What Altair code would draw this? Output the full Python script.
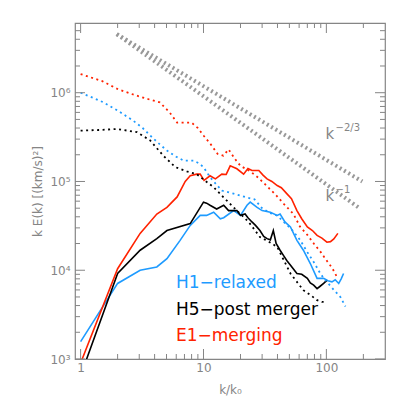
import altair as alt
import pandas as pd

# ---------------- data ----------------
series_names = ["H1−relaxed", "H5−post merger", "E1−merging"]
series_colors = ["#1e9bff", "#000000", "#ff2200"]

# solid curves
k_h1 = [1, 2, 3.05, 4.17, 5.04, 6.45, 7.8, 9.4, 10.6, 12.1, 13.7, 14.6, 17.6, 20, 22.6, 24,
        27.3, 30, 35, 39.8, 42, 46, 51, 57.6, 65, 74, 84, 95, 103, 111, 118, 126, 132, 138]
e_h1 = [1.57e3, 7.1e3, 1.0e4, 1.09e4, 1.35e4, 2.17e4, 3.2e4, 4.15e4, 4.15e4, 4.5e4, 3.8e4, 3.9e4,
        4.7e4, 4.15e4, 5.4e4, 5.85e4, 5.1e4, 4.7e4, 4.5e4, 4.15e4, 4.3e4, 3.5e4, 3.07e4, 2.17e4,
        1.68e4, 1.19e4, 8.1e3, 8.1e3, 7.6e3, 7.4e3, 7.8e3, 7.1e3, 8.0e3, 9.2e3]

k_h5 = [1, 2, 3.05, 4.17, 5.04, 7.8, 10, 10.6, 11.3, 12.8, 14.6, 16, 18.7, 20, 21.8, 23, 24.8,
        26.5, 28.8, 30.9, 32.9, 35, 37, 39, 42, 45, 47.6, 52, 57.6, 63, 70, 74, 78.8, 84, 89, 95, 101]
e_h5 = [650, 9.2e3, 1.68e4, 2.27e4, 2.8e4, 3.35e4, 5.85e4, 5.7e4, 5.4e4, 4.9e4, 5.4e4, 4.7e4,
        4.7e4, 4.15e4, 4.3e4, 3.9e4, 3.5e4, 3.2e4, 2.8e4, 2.4e4, 2.27e4, 2.2e4, 2.8e4, 2.0e4,
        1.68e4, 1.45e4, 1.29e4, 1.1e4, 9.2e3, 9.0e3, 8.1e3, 7.2e3, 6.8e3, 6.2e3, 6.6e3, 7.1e3, 7.7e3]

k_e1 = [1, 2, 3.05, 4.17, 5.04, 6.1, 7.1, 7.8, 8.8, 9.4, 10.1, 11.3, 12.5, 14.1, 15.3, 16.5, 18.7,
        21.2, 23, 24.8, 28.2, 30.5, 32.9, 36, 39.8, 43, 47.6, 52, 57.6, 63, 70, 77, 84, 92, 101,
        108, 115, 124]
e_e1 = [900, 1.04e4, 2.6e4, 4.3e4, 5.1e4, 6.7e4, 1.0e5, 1.16e5, 1.21e5, 1.21e5, 1.03e5, 1.16e5,
        1.07e5, 1.21e5, 1.2e5, 1.5e5, 1.39e5, 1.21e5, 1.4e5, 1.33e5, 1.33e5, 1.18e5, 1.07e5, 1.0e5,
        9.0e4, 8.5e4, 7.3e4, 6.4e4, 4.7e4, 3.8e4, 3.07e4, 2.8e4, 2.47e4, 2.3e4, 2.07e4, 2.1e4,
        2.25e4, 2.6e4]

# dotted curves
kd_h1 = [1, 1.25, 1.53, 2.0, 2.7, 3.2, 3.68, 4.3, 5.04, 6, 6.9, 8.3, 9.2, 10, 11.3, 12.5, 14.1,
         17.6, 22.6, 26, 30, 35, 40, 45, 52, 61, 70, 80, 90, 100, 115, 130, 143]
ed_h1 = [1.0e6, 8.8e5, 7.8e5, 6.3e5, 4.8e5, 4.0e5, 3.3e5, 2.7e5, 2.23e5, 1.9e5, 1.72e5, 1.72e5,
         1.6e5, 1.45e5, 1.12e5, 9.5e4, 7.9e4, 7.3e4, 6.6e4, 6.3e4, 5.0e4, 4.4e4, 4.1e4, 3.5e4,
         2.9e4, 2.2e4, 1.6e4, 1.2e4, 9.0e3, 7.5e3, 6.0e3, 5.0e3, 3.9e3]

kd_h5 = [1, 1.4, 1.97, 2.87, 3.68, 4.73, 5.9, 7.3, 8.8, 10.5, 12.1, 14.6, 17.6, 23.3, 28.8, 34,
         39.8, 45, 51, 58, 65, 75, 84, 92, 101]
ed_h5 = [3.74e5, 3.8e5, 3.9e5, 3.6e5, 2.9e5, 1.94e5, 1.45e5, 1.3e5, 1.21e5, 1.0e5, 8.6e4, 6.6e4,
         5.1e4, 3.5e4, 2.37e4, 2.1e4, 1.83e4, 1.3e4, 9.2e3, 7.3e3, 5.96e3, 5.2e3, 4.6e3, 4.4e3, 4.4e3]

kd_e1 = [1, 1.5, 2, 2.7, 3.5, 4.4, 5.3, 6.1, 7, 8, 9, 10, 11.5, 13, 14.5, 16, 18, 20, 24, 28, 33,
         39, 45, 54, 61, 70, 79, 90, 100, 112, 122]
ed_e1 = [1.62e6, 1.35e6, 1.1e6, 9.5e5, 8.5e5, 7.8e5, 6.0e5, 4.6e5, 4.6e5, 4.6e5, 4.0e5, 3.3e5,
         2.6e5, 2.05e5, 1.95e5, 2.3e5, 1.8e5, 1.5e5, 1.3e5, 1.1e5, 8.8e4, 7.0e4, 5.6e4, 4.3e4,
         3.1e4, 2.5e4, 2.0e4, 1.6e4, 1.3e4, 1.05e4, 8.4e3]

# reference power laws
ref_names = ["k^-2/3", "k^-1"]
ref_k = [[1.97, 196], [1.97, 187]]
ref_e = [[4.57e6, 1.0e5], [4.57e6, 4.98e4]]

x_major = [1, 10, 100]
x_minor = [m * 10 ** d for d in range(0, 3) for m in range(2, 10) if m * 10 ** d <= 200]
y_major = [1e3, 1e4, 1e5, 1e6]
y_minor = [m * 10 ** d for d in range(3, 7) for m in range(2, 10) if m * 10 ** d <= 5e6]
sup_digits = ['⁰', '¹', '²', '³', '⁴', '⁵', '⁶', '⁷']

# ---------------- tables ----------------
def long(names, ks, es):
    rows = []
    for n, kk, ee in zip(names, ks, es):
        for i, (a, b) in enumerate(zip(kk, ee)):
            rows.append({"series": n, "k": a, "E": b, "i": i})
    return pd.DataFrame(rows)

df_solid = long(series_names, [k_h1, k_h5, k_e1], [e_h1, e_h5, e_e1])
df_dot = long(series_names, [kd_h1, kd_h5, kd_e1], [ed_h1, ed_h5, ed_e1])
df_ref = long(ref_names, ref_k, ref_e)

W, H = 310, 336

# ---------------- scales / axes ----------------
xscale = alt.Scale(type="log", domain=[0.9, 300], nice=False)
yscale = alt.Scale(type="log", domain=[1000, 6.1e6], nice=False)
color = alt.Color("series:N", scale=alt.Scale(domain=series_names, range=series_colors), legend=None)
GRAY = "#858585"
sup_list = "[" + ",".join(f"'{s}'" for s in sup_digits) + "]"

x_axis = alt.Axis(values=x_major, ticks=False, domain=False, labelPadding=3,
                  labelOverlap=False, labelFlush=False, titleY=34, titleBaseline="alphabetic")
y_axis = alt.Axis(values=y_major, ticks=False, domain=False, labelPadding=5,
                  labelOverlap=False, labelFlush=False, titleX=-38, titleBaseline="middle",
                  labelExpr=f"'10' + {sup_list}[round(log(datum.value)/LN10)]")

solid = alt.Chart(df_solid).mark_line(strokeWidth=1.6, clip=True).encode(
    x=alt.X("k:Q", scale=xscale, axis=x_axis, title="k/k₀"),
    y=alt.Y("E:Q", scale=yscale, axis=y_axis, title="k E(k) [(km/s)²]"),
    color=color, order="i:Q")

dotted = alt.Chart(df_dot).mark_line(strokeWidth=1.8, strokeDash=[2, 3.5], clip=True).encode(
    x=alt.X("k:Q", scale=xscale, axis=None),
    y=alt.Y("E:Q", scale=yscale, axis=None),
    color=color, order="i:Q")

refs = alt.Chart(df_ref).mark_line(strokeWidth=4, strokeDash=[2, 3], color="#999999").encode(
    x=alt.X("k:Q", scale=xscale, axis=None),
    y=alt.Y("E:Q", scale=yscale, axis=None),
    detail="series:N", order="i:Q")


# inward tick marks on all four sides of the frame
def xticks(values, length):
    d = pd.DataFrame({"v": values})
    base = alt.Chart(d).mark_rule(color=GRAY, strokeWidth=1)
    enc = dict(x=alt.X("v:Q", scale=xscale, axis=None))
    return [base.encode(y=alt.value(H), y2=alt.value(H - length), **enc),
            base.encode(y=alt.value(0), y2=alt.value(length), **enc)]


def yticks(values, length):
    d = pd.DataFrame({"v": values})
    base = alt.Chart(d).mark_rule(color=GRAY, strokeWidth=1)
    enc = dict(y=alt.Y("v:Q", scale=yscale, axis=None))
    return [base.encode(x=alt.value(0), x2=alt.value(length), **enc),
            base.encode(x=alt.value(W), x2=alt.value(W - length), **enc)]

ticks = xticks(x_major, 10) + xticks(x_minor, 5) + yticks(y_major, 10) + yticks(y_minor, 5)


def label(text, xv, yv, size, col, align="left", baseline="alphabetic"):
    return alt.Chart(pd.DataFrame({"t": [text]})).mark_text(
        align=align, baseline=baseline, fontSize=size, color=col, font="DejaVu Sans").encode(
        x=alt.X(datum=xv, type="quantitative", scale=xscale, axis=None),
        y=alt.Y(datum=yv, type="quantitative", scale=yscale, axis=None),
        text="t:N")

annot_texts = ["k", "−2/3", "k", "−1"]
texts = [
    label(annot_texts[0], 98.4, 3.04e5, 15, GRAY),
    label(annot_texts[1], 118.7, 3.7e5, 10, GRAY),
    label(annot_texts[2], 98.4, 6.1e4, 15, GRAY),
    label(annot_texts[3], 118.7, 7.5e4, 10, GRAY),
    label(series_names[0], 5.97, 7.2e3, 17, series_colors[0], baseline="middle"),
    label(series_names[1], 5.97, 3.6e3, 17, series_colors[1], baseline="middle"),
    label(series_names[2], 5.97, 1.81e3, 17, series_colors[2], baseline="middle"),
]

chart = alt.layer(solid, dotted, refs, *ticks, *texts).resolve_axis(
    x="independent", y="independent"
).properties(
    width=W, height=H,
    autosize=alt.AutoSizeParams(type="none"),
    padding={"left": 67, "top": 15, "right": 14, "bottom": 40},
).configure(font="DejaVu Sans").configure_view(
    stroke=GRAY, strokeWidth=1.2
).configure_axis(
    labelFont="DejaVu Sans", labelFontSize=12, labelColor=GRAY, grid=False,
    titleFont="DejaVu Sans", titleFontSize=12, titleFontWeight="normal", titleColor=GRAY,
)

chart.save("out.html", embed_options={"renderer": "svg", "actions": False})
